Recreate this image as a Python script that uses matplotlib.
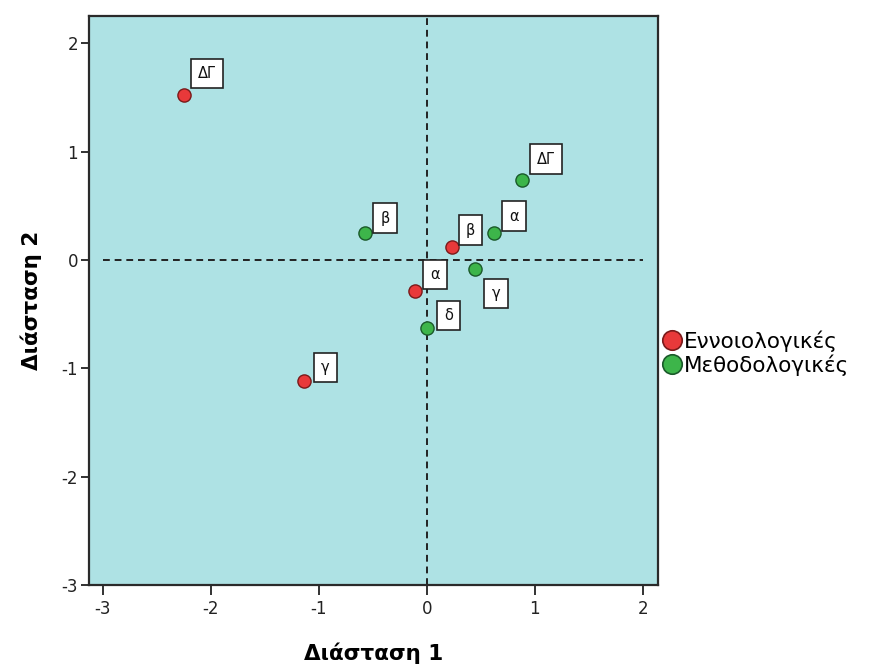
import matplotlib
matplotlib.use("Agg")
import matplotlib.pyplot as plt
from matplotlib.lines import Line2D

plt.rcParams['font.family'] = ['DejaVu Sans']
plt.rcParams['axes.unicode_minus'] = False

# Category points (dimension 1, dimension 2)
groups = ["Εννοιολογικές", "Μεθοδολογικές"]
labels_conc = ["ΔΓ", "β", "α", "γ"]
dim1_conc = [-2.25, 0.23, -0.11, -1.14]
dim2_conc = [1.52, 0.12, -0.29, -1.12]

labels_meth = ["ΔΓ", "α", "β", "γ", "δ"]
dim1_meth = [0.88, 0.62, -0.57, 0.45, 0.00]
dim2_meth = [0.74, 0.25, 0.25, -0.08, -0.63]

xticks = [-3, -2, -1, 0, 1, 2]
yticks = [-3, -2, -1, 0, 1, 2]

# label box offsets in pixels (lower-left corner of box relative to point)
off_conc = [(7, 7), (7, 2), (8, 2), (10, -1)]
off_meth = [(8, 6), (8, 2), (8, 0), (9, -10), (10, -2)]

red = "#e8393a"
green = "#3db54a"
bg = "#aee2e4"

fig = plt.figure(figsize=(8.7, 6.69), dpi=100)
ax = fig.add_axes([0.1026, 0.1256, 0.6541, 0.8509])
ax.set_facecolor(bg)
ax.set_xlim(-3.124, 2.144)
ax.set_ylim(-3.0, 2.255)

ax.plot([0, 0], [-3.0, 2.255], linestyle=(0, (3.5, 2.5)), color="#222222", lw=1.4, zorder=1)
ax.plot([-3.0, 2.0], [0, 0], linestyle=(0, (3.5, 2.5)), color="#222222", lw=1.4, zorder=1)

def draw(xs, ys, labs, offs, color):
    ax.scatter(xs, ys, s=90, c=color, edgecolors="#1a5a2a" if color == green else "#7a1a1a",
               linewidths=1.0, zorder=3)
    for x, y, t, (dx, dy) in zip(xs, ys, labs, offs):
        pad_px = 0.5 * 10.5 * 100 / 72
        if dy >= -3:
            va, oy = "bottom", dy + pad_px
        else:
            va, oy = "top", dy - pad_px
        ax.annotate(t, (x, y), xytext=(dx + pad_px, oy), textcoords="offset pixels",
                    ha="left", va=va, fontsize=10.5, color="#111111", zorder=4,
                    bbox=dict(boxstyle="square,pad=0.5", fc="white", ec="#222222", lw=1.2))

draw(dim1_conc, dim2_conc, labels_conc, off_conc, red)
draw(dim1_meth, dim2_meth, labels_meth, off_meth, green)

ax.set_xticks(xticks)
ax.set_yticks(yticks)
ax.tick_params(axis="both", direction="out", length=6, width=1.3, color="#222222",
               labelsize=12, labelcolor="#222222", pad=2)
ax.tick_params(axis="x", length=7.5, pad=3)
for sp in ax.spines.values():
    sp.set_linewidth(1.6)
    sp.set_color("#2a2a2a")

ax.set_xlabel("Διάσταση 1", fontsize=15.5, fontweight="bold", labelpad=18)
ax.set_ylabel("Διάσταση 2", fontsize=15.5, fontweight="bold", labelpad=14)

handles = [Line2D([], [], marker="o", linestyle="none", markersize=14,
                  markerfacecolor=c, markeredgecolor=e, markeredgewidth=1.2)
           for c, e in [(red, "#7a1a1a"), (green, "#1a5a2a")]]
fig.legend(handles, groups, loc="center left", bbox_to_anchor=(0.761, 0.472),
           frameon=False, fontsize=15.5, handlelength=0.9, handletextpad=0.12,
           labelspacing=0.12, borderpad=0, borderaxespad=0)

fig.savefig("out.png", dpi=100)
